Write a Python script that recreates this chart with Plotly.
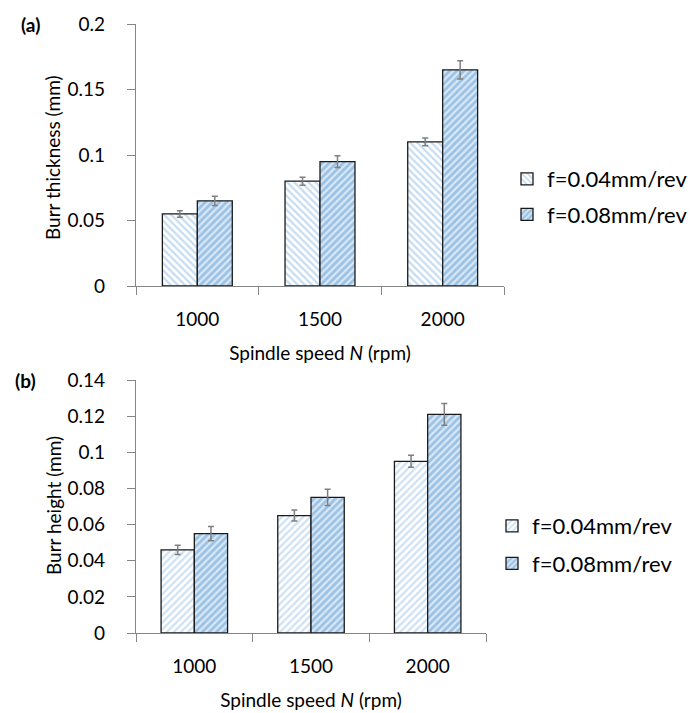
import plotly.graph_objects as go

speeds = ["1000", "1500", "2000"]
series_names = ["f=0.04mm/rev", "f=0.08mm/rev"]

thickness_f004 = [0.055, 0.080, 0.110]
thickness_f004_err = [0.0025, 0.003, 0.003]
thickness_f008 = [0.065, 0.095, 0.165]
thickness_f008_err = [0.0035, 0.0045, 0.007]

height_f004 = [0.046, 0.065, 0.095]
height_f004_err = [0.0025, 0.003, 0.0033]
height_f008 = [0.055, 0.075, 0.121]
height_f008_err = [0.004, 0.0045, 0.006]

FONT = "Lato"
FS = 19
OFF = 8                      # default page margin of the html body
W, H = 698 - OFF, 713 - OFF  # figure size that fits the window


def px_x(a, b):
    return [(a - OFF) / W, (b - OFF) / W]


def px_y(top, bottom):
    return [1 - (bottom - OFF) / H, 1 - (top - OFF) / H]


def pos_x(a):
    return (a - OFF) / W


def pos_y(a):
    return 1 - (a - OFF) / H


err_style = dict(type="data", color="#7f7f7f", thickness=1.5, width=3)
outline = dict(color="#1a1a1a", width=1.3)

fig = go.Figure()

# (a) Burr thickness
fig.add_trace(go.Bar(
    x=speeds, y=thickness_f004, name=series_names[0],
    error_y=dict(array=thickness_f004_err, **err_style),
    marker=dict(color="white", line=outline,
                pattern=dict(shape="\\", fgcolor="#8DB9E3", bgcolor="white", size=5, solidity=0.45)),
    xaxis="x", yaxis="y", legend="legend", legendgroup="a1",
))
fig.add_trace(go.Bar(
    x=speeds, y=thickness_f008, name=series_names[1],
    error_y=dict(array=thickness_f008_err, **err_style),
    marker=dict(color="#DAE8F5", line=outline,
                pattern=dict(shape="/", fgcolor="#5B9BD5", bgcolor="#DAE8F5", size=5, solidity=0.55)),
    xaxis="x", yaxis="y", legend="legend", legendgroup="a2",
))

# (b) Burr height
fig.add_trace(go.Bar(
    x=speeds, y=height_f004, name=series_names[0],
    error_y=dict(array=height_f004_err, **err_style),
    marker=dict(color="white", line=outline,
                pattern=dict(shape="/", fgcolor="#9CC4E8", bgcolor="white", size=5, solidity=0.45)),
    xaxis="x2", yaxis="y2", legend="legend2", legendgroup="b1",
))
fig.add_trace(go.Bar(
    x=speeds, y=height_f008, name=series_names[1],
    error_y=dict(array=height_f008_err, **err_style),
    marker=dict(color="#DAE8F5", line=outline,
                pattern=dict(shape="/", fgcolor="#5B9BD5", bgcolor="#DAE8F5", size=5, solidity=0.55)),
    xaxis="x2", yaxis="y2", legend="legend2", legendgroup="b2",
))

tfont = dict(family=FONT, size=FS, color="black")
lfont = dict(family=FONT, size=22, color="black")

axis_common = dict(showline=True, linecolor="#868686", linewidth=1.2, showgrid=False,
                   zeroline=False, ticks="outside", ticklen=8, tickcolor="#868686",
                   tickfont=tfont, automargin=False)

x_common = dict(axis_common, type="category", tickson="boundaries", range=[-0.5, 2.5],
                ticklabelstandoff=16,
                title=dict(text="Spindle speed <i>N</i> (rpm)", font=tfont, standoff=17))

fig.update_layout(
    width=W, height=H,
    margin=dict(l=0, r=0, t=0, b=0, autoexpand=False),
    paper_bgcolor="white", plot_bgcolor="white",
    font=tfont,
    barmode="group", bargap=0.43, bargroupgap=0,
    xaxis=dict(x_common, domain=px_x(136, 504), anchor="y"),
    yaxis=dict(axis_common, domain=px_y(24, 286), anchor="x", range=[0, 0.2], dtick=0.05,
               ticklabelstandoff=18),
    xaxis2=dict(x_common, domain=px_x(136, 486), anchor="y2"),
    yaxis2=dict(axis_common, domain=px_y(380, 633), anchor="x2", range=[0, 0.14], dtick=0.02,
                ticklabelstandoff=18),
    legend=dict(x=pos_x(507), y=pos_y(197), xanchor="left", yanchor="middle",
                font=lfont, traceorder="grouped", tracegroupgap=4,
                bgcolor="rgba(0,0,0,0)"),
    legend2=dict(x=pos_x(492), y=pos_y(545), xanchor="left", yanchor="middle",
                 font=lfont, traceorder="grouped", tracegroupgap=6,
                 bgcolor="rgba(0,0,0,0)"),
    annotations=[
        dict(text="<b>(a)</b>", x=pos_x(30), y=pos_y(24), xref="paper", yref="paper",
             xanchor="center", yanchor="middle", showarrow=False, font=tfont),
        dict(text="<b>(b)</b>", x=pos_x(25), y=pos_y(380), xref="paper", yref="paper",
             xanchor="center", yanchor="middle", showarrow=False, font=tfont),
        dict(text="Burr thickness (mm)", x=pos_x(53), y=pos_y(158), xref="paper", yref="paper",
             xanchor="center", yanchor="middle", textangle=-90, showarrow=False, font=tfont),
        dict(text="Burr height (mm)", x=pos_x(53), y=pos_y(506), xref="paper", yref="paper",
             xanchor="center", yanchor="middle", textangle=-90, showarrow=False, font=tfont),
    ],
)

fig.write_html("out.html")
